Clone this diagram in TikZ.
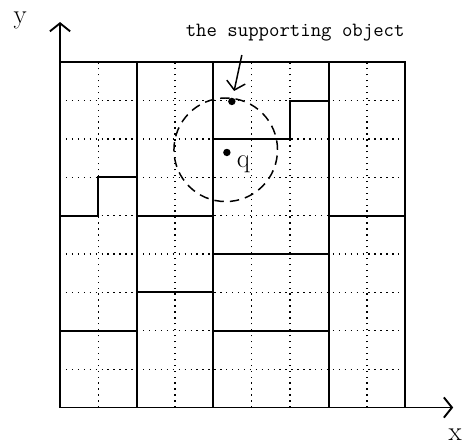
\documentclass[tikz,border=0pt]{standalone}
\usetikzlibrary{arrows.meta}

\tikzstyle{gridline} = [dash pattern=on 1pt off 3.4pt, line width=1pt]
\tikzstyle{wall} = [line width=1.5pt]
\tikzstyle{axis} = [line width=1.4pt, -{Straight Barb[length=6pt,width=15pt]}]
\tikzstyle{pointer} = [line width=1.1pt, -{Straight Barb[length=6pt,width=14pt]}, shorten >=5pt]
\tikzstyle{dot} = [circle, fill, inner sep=0pt, minimum size=5.5pt]
\tikzstyle{lbl} = [font=\fontsize{20}{22}\selectfont, inner sep=0pt]
\tikzstyle{searchcircle} = [line width=1.1pt, dash pattern=on 7pt off 4.5pt]

\begin{document}
\begin{tikzpicture}
\useasboundingbox (-1.565,-1.04) rectangle (10.48,10.625);
%dotted grid
\foreach \i in {1,...,8} {
    \draw[gridline] (\i,0) -- (\i,9);
    \draw[gridline] (0,\i) -- (9,\i);
}
%axes
\coordinate (O) at (0,0);
\coordinate (ytip) at (0,10.05);
\coordinate (xtip) at (10.25,0);
\draw[axis] (O) -- (ytip);
\draw[axis] (O) -- (xtip);
\node[lbl] (ylbl) at (-1.04,10.1) {y};
\node[lbl] (xlbl) at (10.3,-0.72) {x};
%begin regions
\draw[wall] (0,9) -- (9,9) -- (9,0);
\draw[wall] (2,0) -- (2,9);
\draw[wall] (4,0) -- (4,9);
\draw[wall] (7,0) -- (7,9);
%column 0-2
\draw[wall] (0,5) -- (1,5) -- (1,6) -- (2,6);
\draw[wall] (0,2) -- (2,2);
%column 2-4
\draw[wall] (2,5) -- (4,5);
\draw[wall] (2,3) -- (4,3);
%column 4-7
\draw[wall] (4,7) -- (6,7) -- (6,8) -- (7,8);
\draw[wall] (4,4) -- (7,4);
\draw[wall] (4,2) -- (7,2);
%column 7-9
\draw[wall] (7,5) -- (9,5);
%end regions
%query
\draw[searchcircle] (4.32,6.72) circle (1.35);
\node[dot] (q) at (4.35,6.65) {};
\node[lbl] (qlbl) at (4.78,6.35) {q};
\node[dot] (sup) at (4.48,7.98) {};
\node[font=\ttfamily\fontsize{15}{17}\selectfont] (suplbl) at (6.13,9.77) {the supporting object};
\coordinate (tail) at (4.74,9.19);
\draw[pointer] (tail) -- (sup);
\end{tikzpicture}
\end{document}
